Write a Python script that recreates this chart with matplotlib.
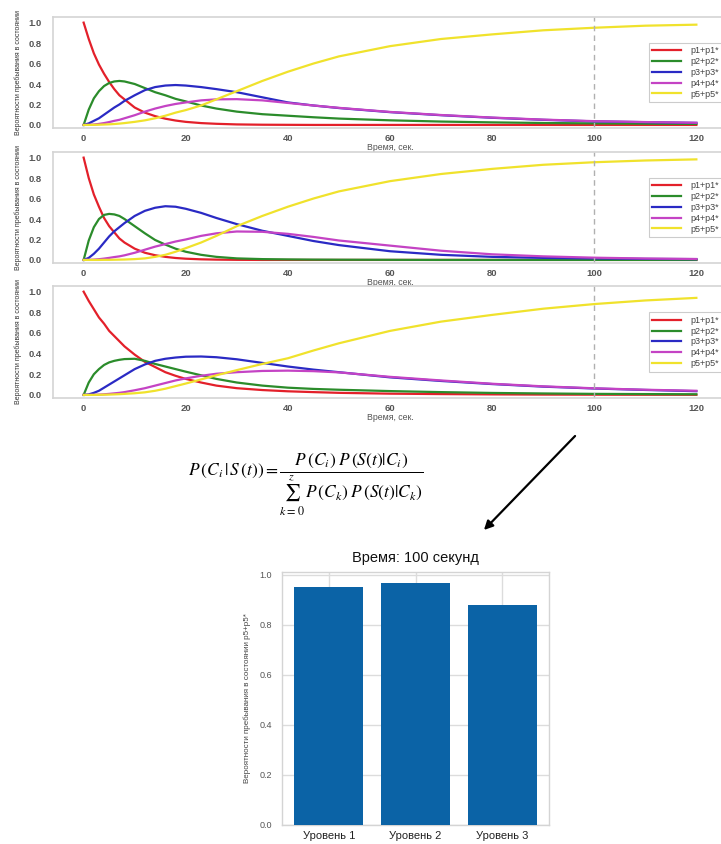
import matplotlib

matplotlib.use("Agg")
import matplotlib.pyplot as plt
from matplotlib.patches import FancyArrowPatch

plt.rcParams["font.family"] = ["Liberation Sans", "DejaVu Sans"]
plt.rcParams["mathtext.fontset"] = "stix"

T = [0, 1, 2, 3, 4, 5, 6, 7, 8, 10, 12, 14, 16, 18, 20, 23, 26, 30, 35, 40,
     45, 50, 60, 70, 80, 90, 100, 110, 120]

# level 1
p1_a = [1.0, 0.84, 0.70, 0.59, 0.50, 0.42, 0.35, 0.29, 0.25, 0.17, 0.12, 0.086, 0.061, 0.043, 0.03,
        0.018, 0.011, 0.005, 0.002, 0.001, 0, 0, 0, 0, 0, 0, 0, 0, 0]
p2_a = [0, 0.15, 0.26, 0.33, 0.38, 0.41, 0.425, 0.43, 0.425, 0.40, 0.36, 0.32, 0.29, 0.255, 0.23,
        0.19, 0.16, 0.13, 0.105, 0.09, 0.075, 0.062, 0.045, 0.033, 0.025, 0.019, 0.015, 0.012, 0.01]
p3_a = [0, 0.015, 0.04, 0.065, 0.10, 0.135, 0.17, 0.20, 0.235, 0.29, 0.34, 0.37, 0.385, 0.39, 0.385,
        0.37, 0.35, 0.32, 0.27, 0.22, 0.19, 0.165, 0.125, 0.095, 0.07, 0.05, 0.035, 0.027, 0.02]
p4_a = [0, 0.001, 0.004, 0.01, 0.018, 0.028, 0.04, 0.05, 0.065, 0.095, 0.13, 0.16, 0.185, 0.205, 0.22,
        0.24, 0.25, 0.252, 0.24, 0.215, 0.19, 0.167, 0.127, 0.097, 0.072, 0.052, 0.037, 0.028, 0.021]
p5_a = [0, 0, 0.001, 0.002, 0.004, 0.006, 0.009, 0.013, 0.018, 0.03, 0.045, 0.065, 0.09, 0.12, 0.145,
        0.19, 0.25, 0.33, 0.43, 0.52, 0.60, 0.67, 0.77, 0.84, 0.885, 0.925, 0.95, 0.97, 0.98]

# level 2
p1_b = [1.0, 0.80, 0.64, 0.52, 0.41, 0.33, 0.27, 0.21, 0.17, 0.11, 0.07, 0.046, 0.03, 0.019, 0.012,
        0.006, 0.003, 0.001, 0, 0, 0, 0, 0, 0, 0, 0, 0, 0, 0]
p2_b = [0, 0.19, 0.32, 0.40, 0.44, 0.45, 0.445, 0.43, 0.40, 0.33, 0.26, 0.195, 0.15, 0.11, 0.08,
        0.05, 0.03, 0.015, 0.008, 0.005, 0.003, 0.002, 0.001, 0, 0, 0, 0, 0, 0]
p3_b = [0, 0.02, 0.06, 0.11, 0.17, 0.23, 0.28, 0.32, 0.36, 0.43, 0.48, 0.51, 0.525, 0.52, 0.50,
        0.46, 0.41, 0.35, 0.285, 0.235, 0.185, 0.145, 0.085, 0.05, 0.03, 0.02, 0.015, 0.01, 0.008]
p4_b = [0, 0.001, 0.003, 0.007, 0.013, 0.02, 0.028, 0.035, 0.045, 0.07, 0.10, 0.13, 0.155, 0.18, 0.20,
        0.235, 0.26, 0.278, 0.275, 0.255, 0.225, 0.19, 0.14, 0.09, 0.055, 0.035, 0.022, 0.014, 0.009]
p5_b = [0, 0, 0, 0, 0.001, 0.001, 0.002, 0.003, 0.004, 0.008, 0.015, 0.03, 0.05, 0.08, 0.115,
        0.17, 0.235, 0.33, 0.43, 0.52, 0.60, 0.67, 0.77, 0.84, 0.89, 0.93, 0.955, 0.972, 0.983]

# level 3
p1_c = [1.0, 0.91, 0.83, 0.75, 0.69, 0.62, 0.57, 0.52, 0.47, 0.39, 0.32, 0.27, 0.22, 0.185, 0.155,
        0.12, 0.09, 0.065, 0.047, 0.035, 0.027, 0.02, 0.012, 0.008, 0.005, 0.003, 0.002, 0.0015, 0.001]
p2_c = [0, 0.12, 0.20, 0.25, 0.29, 0.315, 0.33, 0.34, 0.347, 0.35, 0.33, 0.30, 0.275, 0.25, 0.225,
        0.19, 0.155, 0.12, 0.09, 0.07, 0.058, 0.05, 0.037, 0.027, 0.019, 0.014, 0.01, 0.008, 0.006]
p3_c = [0, 0.005, 0.02, 0.04, 0.07, 0.10, 0.13, 0.16, 0.19, 0.25, 0.295, 0.33, 0.35, 0.362, 0.37,
        0.372, 0.365, 0.345, 0.31, 0.275, 0.245, 0.22, 0.17, 0.135, 0.105, 0.08, 0.062, 0.048, 0.036]
p4_c = [0, 0, 0.001, 0.003, 0.006, 0.01, 0.015, 0.02, 0.027, 0.045, 0.065, 0.09, 0.115, 0.14, 0.16,
        0.185, 0.205, 0.22, 0.232, 0.235, 0.23, 0.218, 0.175, 0.14, 0.108, 0.083, 0.064, 0.05, 0.04]
p5_c = [0, 0, 0, 0.001, 0.002, 0.003, 0.005, 0.007, 0.01, 0.016, 0.025, 0.04, 0.06, 0.085, 0.11,
        0.15, 0.19, 0.24, 0.30, 0.355, 0.43, 0.50, 0.62, 0.71, 0.775, 0.835, 0.88, 0.915, 0.94]

labels = ["p1+p1*", "p2+p2*", "p3+p3*", "p4+p4*", "p5+p5*"]
colors = ["#e3202a", "#2b8c2b", "#2a2ac4", "#c443c4", "#f0e22c"]

levels = ["Уровень 1", "Уровень 2", "Уровень 3"]
p5_at_100 = [0.95, 0.965, 0.88]

W, H = 721, 844
fig = plt.figure(figsize=(W / 100, H / 100), dpi=100)
fig.patch.set_facecolor("white")


def frac_box(left, top, right, bottom):
    # pixel box of the reference -> figure fraction rect
    return [left / W, 1 - bottom / H, (right - left) / W, (bottom - top) / H]


panels = [
    ((53, 17, 727, 128), [p1_a, p2_a, p3_a, p4_a, p5_a]),
    ((53, 152, 727, 263), [p1_b, p2_b, p3_b, p4_b, p5_b]),
    ((53, 286, 727, 398), [p1_c, p2_c, p3_c, p4_c, p5_c]),
]

for box, series in panels:
    ax = fig.add_axes(frac_box(*box))
    for values, color, label in zip(series, colors, labels):
        ax.plot(T, values, color=color, lw=1.6, label=label)
    ax.axvline(100, color="#b0b0b0", lw=1.0, ls=(0, (4, 3)))
    ax.set_xlim(-6, 126)
    ax.set_ylim(-0.03, 1.055)
    ax.set_xticks(range(0, 121, 20))
    ax.set_yticks([0.0, 0.2, 0.4, 0.6, 0.8, 1.0])
    ax.set_yticklabels(["0.0", "0.2", "0.4", "0.6", "0.8", "1.0"])
    ax.tick_params(axis="both", length=0, labelsize=6.8, labelcolor="#555555")
    ax.tick_params(axis="y", pad=8)
    ax.tick_params(axis="x", pad=4)
    for lab in ax.get_xticklabels() + ax.get_yticklabels():
        lab.set_fontweight("bold")
    for spine in ax.spines.values():
        spine.set_color("#d4d4d4")
        spine.set_linewidth(1.2)
    ax.set_xlabel("Время, сек.", fontsize=6.3, color="#555555", labelpad=0)
    ax.set_ylabel("Вероятности пребывания в состоянии", fontsize=5.0, color="#333333", labelpad=5)
    leg = ax.legend(loc="center right", fontsize=6.5, handlelength=3.2, handletextpad=1.0,
                    labelspacing=0.2, borderpad=0.4, fancybox=False, framealpha=1)
    leg.get_frame().set_edgecolor("#cccccc")
    leg.get_frame().set_linewidth(0.8)
    for txt in leg.get_texts():
        txt.set_color("#444444")

# Bayes formula
fig.text(306 / W, 1 - 485 / H,
         r"$P\,(C_i\,|\,S\,(t)) = \dfrac{P\,(C_i)\;P\,(S(t)|C_i)}{\sum_{k=0}^{z}\,P\,(C_k)\;P\,(S(t)|C_k)}$",
         ha="center", va="center", fontsize=12.5)

# arrow to the bar chart
fig.add_artist(FancyArrowPatch(
    (577 / W, 1 - 434 / H), (482 / W, 1 - 532 / H), transform=fig.transFigure,
    arrowstyle="-|>", mutation_scale=13, color="black", lw=1.6))

bx = fig.add_axes(frac_box(282, 572, 549, 825))
bx.bar(levels, p5_at_100, width=0.8, color="#0b63a6", zorder=3)
bx.set_ylim(0, 1.01)
bx.set_yticks([0.0, 0.2, 0.4, 0.6, 0.8, 1.0])
bx.set_yticklabels(["0.0", "0.2", "0.4", "0.6", "0.8", "1.0"])
bx.grid(True, color="#dcdcdc", lw=1.0, zorder=0)
bx.set_axisbelow(True)
bx.tick_params(axis="both", length=0)
bx.tick_params(axis="y", labelsize=6.5, labelcolor="#555555", pad=7)
bx.tick_params(axis="x", labelsize=8, labelcolor="#222222", pad=4)
for spine in bx.spines.values():
    spine.set_color("#d4d4d4")
    spine.set_linewidth(1.0)
bx.set_ylabel("Вероятности пребывания в состоянии p5+p5*", fontsize=5.8, color="#444444", labelpad=6)
bx.set_title("Время: 100 секунд", fontsize=10.5, color="#111111", pad=7)

fig.savefig("out.png", dpi=100)
